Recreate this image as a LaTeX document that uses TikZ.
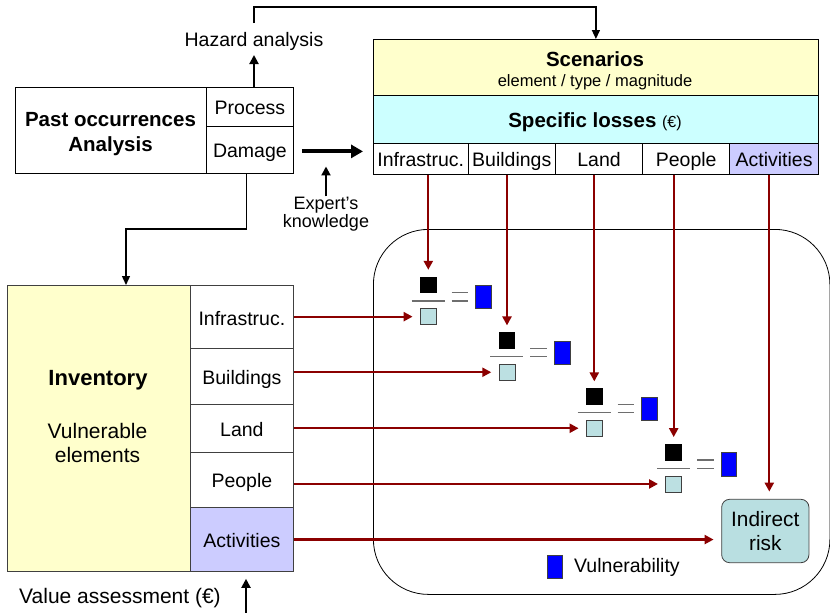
\documentclass[tikz,border=0pt]{standalone}
\usepackage{fontspec}
\setmainfont{Liberation Sans}
\usetikzlibrary{arrows.meta,calc}
\definecolor{yfill}{HTML}{FFFFCC}
\definecolor{cfill}{HTML}{CCFFFF}
\definecolor{lav}{HTML}{CCCCFF}
\definecolor{darkred}{HTML}{8B0000}
\definecolor{lightsq}{HTML}{BCE0E2}
\definecolor{indfill}{HTML}{B9DFE1}
\definecolor{barg}{HTML}{6E6E6E}
\definecolor{edgeg}{HTML}{404040}
\begin{document}
\begin{tikzpicture}[x=1pt,y=-1pt,
  cell/.style={draw=black, line width=0.8pt, inner sep=0pt, anchor=north west, align=center, text height=16.4pt, text depth=0.4pt, font=\fontsize{19.5}{23}\selectfont},
  txt/.style={inner sep=0pt, align=center, font=\fontsize{19.5}{23}\selectfont},
  btxt/.style={inner sep=0pt, align=center, font=\fontsize{20.5}{25}\selectfont\bfseries},
  redarr/.style={draw=darkred, line width=2.3pt, -{Triangle[length=9pt,width=9pt]}},
  blkarr/.style={draw=black, line width=2pt, -{Triangle[length=9pt,width=9pt]}},
  thinarr/.style={draw=black, line width=1.4pt, -{Triangle[length=9pt,width=8pt]}},
  numsq/.style={fill=black, draw=none, minimum size=16.7pt, inner sep=0pt},
  densq/.style={fill=lightsq, draw=edgeg, line width=0.8pt, minimum size=16pt, inner sep=0pt},
  vulsq/.style={fill=blue, draw=edgeg, line width=0.8pt, minimum width=15.6pt, minimum height=23.2pt, inner sep=0pt},
  barline/.style={draw=barg, line width=1.5pt}
]
\useasboundingbox (0,0) rectangle (830,613);

% ---------- Past occurrences ----------
\node[cell, minimum width=191pt, minimum height=86pt] (past) at (15,87) {};
\node[btxt] (pasttxt) at (110.5,134) {Past occurrences\\Analysis};
\node[cell, minimum width=87pt, minimum height=39pt] (process) at (206,87) {Process};
\node[cell, minimum width=87pt, minimum height=47pt] (damage) at (206,126) {Damage};

\node[txt] (hazard) at (254,41) {Hazard analysis};
\coordinate (haztop) at (254,23);
\node[txt, font=\fontsize{18}{18.5}\selectfont] (expert) at (326,214) {Expert’s\\knowledge};

% ---------- Scenarios ----------
\node[cell, fill=yfill, minimum width=445pt, minimum height=56pt] (scen) at (373,39) {};
\node[btxt] (scentitle) at (595,59) {Scenarios};
\node[txt, font=\fontsize{16.5}{19}\selectfont] (scensub) at (595,82) {element / type / magnitude};
\node[cell, fill=cfill, minimum width=445pt, minimum height=48pt] (spec) at (373,95) {};
\node[inner sep=0pt] (spectxt) at (595,122) {\fontsize{20.5}{25}\selectfont\bfseries Specific losses \fontsize{16}{19}\selectfont\mdseries(€)};
\node[cell, minimum width=94.7pt, minimum height=31pt] (sinfra) at (373,143) {Infrastruc.};
\node[cell, minimum width=87.3pt, minimum height=31pt] (sbuild) at (467.7,143) {Buildings};
\node[cell, minimum width=87.3pt, minimum height=31pt] (sland) at (555,143) {Land};
\node[cell, minimum width=87pt, minimum height=31pt] (speople) at (642.3,143) {People};
\node[cell, fill=lav, minimum width=88.7pt, minimum height=31pt] (sact) at (729.3,143) {Activities};

% ---------- Inventory ----------
\node[cell, fill=yfill, draw=edgeg, minimum width=183pt, minimum height=286pt] (inv) at (7,285) {};
\node[btxt, font=\fontsize{22}{25}\selectfont\bfseries] (invtitle) at (98,380) {Inventory};
\node[txt, font=\fontsize{21}{24}\selectfont] (invsub) at (97.5,443) {Vulnerable\\elements};
\node[cell, draw=edgeg, minimum width=103pt, minimum height=63.3pt] (iinfra) at (190,285) {Infrastruc.};
\node[cell, draw=edgeg, minimum width=103pt, minimum height=55.7pt] (ibuild) at (190,348.3) {Buildings};
\node[cell, draw=edgeg, minimum width=103pt, minimum height=47.7pt] (iland) at (190,404) {Land};
\node[cell, draw=edgeg, minimum width=103pt, minimum height=55.6pt] (ipeople) at (190,451.7) {People};
\node[cell, draw=edgeg, fill=lav, minimum width=103pt, minimum height=63.7pt] (iact) at (190,507.3) {Activities};
\node[txt, font=\fontsize{21}{24}\selectfont] (value) at (120,598) {Value assessment (€)};
\coordinate (vabot) at (246,613);

% ---------- Result frame ----------
\node[draw=black, line width=0.8pt, rounded corners=55pt, minimum width=456.5pt, minimum height=365pt, anchor=north west, inner sep=0pt] (frame) at (373,229) {};

\foreach \i/\cx/\y in {1/428.3/276.7, 2/507/332.3, 3/594.3/388.3, 4/673.7/444} {
  \node[numsq] (n\i) at (\cx,\y+8.35) {};
  \node[densq] (d\i) at (\cx,\y+39.95) {};
  \node[vulsq] (v\i) at (\cx+55.2,\y+20.3) {};
  \draw[barline] (\cx-16.6,\y+24.3) -- (\cx+16.4,\y+24.3);
  \draw[barline] (\cx+23.4,\y+16) -- (\cx+40,\y+16);
  \draw[barline] (\cx+23.4,\y+24.3) -- (\cx+40,\y+24.3);
}

\node[draw=edgeg, fill=indfill, line width=0.8pt, rounded corners=8pt, minimum width=87.3pt, minimum height=63.4pt, inner sep=0pt, align=center, font=\fontsize{20.8}{24.5}\selectfont] (ind) at (765.3,531) {Indirect\\risk};
\node[vulsq] (legsq) at (555,567) {};
\node[txt, anchor=west] (legtxt) at (574,567) {Vulnerability};

% ---------- Connectors ----------
\draw[blkarr] (hazard.south |- process.north) -- ++(0,-32);
\draw[thinarr] (haztop) |- (430,7) -| (scen.north);
\draw[draw=black, line width=4pt, -{Triangle[length=12pt,width=13pt]}, shorten <=8pt, shorten >=10pt] ([yshift=-1.5pt]damage.east) -- ([yshift=-1.5pt]damage.east -| sinfra.west);
\draw[blkarr, shorten >=1pt] (expert.north) -- ++(0,-31);
\coordinate (bend) at (126,229);
\draw[thinarr] ([xshift=-3.5pt]damage.south) |- (bend) -- (bend |- inv.north);
\draw[blkarr, shorten >=7pt] (vabot) -- (vabot |- iact.south);

\foreach \s/\i/\c in {sinfra/1/iinfra, sbuild/2/ibuild, sland/3/iland, speople/4/ipeople} {
  \draw[redarr, shorten >=6.7pt] (n\i.north |- \s.south) -- (n\i.north);
  \draw[redarr, shorten >=7.3pt] (\c.east |- d\i.west) -- (d\i.west);
}
\coordinate (actx) at (769.3,0);
\draw[redarr, shorten >=7.3pt] (sact.south -| actx) -- (ind.north -| actx);
\draw[redarr, shorten >=7.7pt] (iact.east) -- (ind.west |- iact.east);
\end{tikzpicture}
\end{document}
